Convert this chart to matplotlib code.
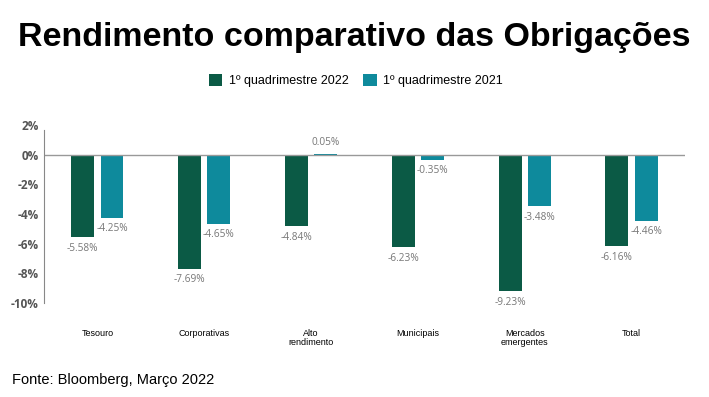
import numpy as np
import matplotlib.pyplot as plt

categories = ['Tesouro', 'Corporativas', 'Alto\nrendimento', 'Municipais',
              'Mercados\nemergentes', 'Total']
q1_2022 = [-5.58, -7.69, -4.84, -6.23, -9.23, -6.16]
q1_2021 = [-4.25, -4.65, 0.05, -0.35, -3.48, -4.46]
series_names = ['1º quadrimestre 2022', '1º quadrimestre 2021']
yticks = [2, 0, -2, -4, -6, -8, -10]

green = '#0b5a45'
teal = '#0e8a9c'

plt.rcParams['font.family'] = ['Liberation Sans', 'DejaVu Sans']

fig = plt.figure(figsize=(7.09, 3.97), dpi=100)
ax = fig.add_axes([0.062, 0.237, 0.904, 0.448])

x = np.arange(len(categories))
w = 0.215
off = 0.137
b1 = ax.bar(x - off, q1_2022, w, color=green, label=series_names[0])
b2 = ax.bar(x + off, q1_2021, w, color=teal, label=series_names[1])

for bars, vals in [(b1, q1_2022), (b2, q1_2021)]:
    for rect, v in zip(bars, vals):
        cx = rect.get_x() + rect.get_width() / 2
        if v < 0:
            ax.annotate(f'{v:.2f}%', (cx, v), xytext=(0, -4), textcoords='offset points',
                        ha='center', va='top', fontsize=7.3, color='#777777',
                        family=['Open Sans', 'DejaVu Sans'])
        else:
            ax.annotate(f'{v:.2f}%', (cx, v), xytext=(0, 4), textcoords='offset points',
                        ha='center', va='bottom', fontsize=7.3, color='#777777',
                        family=['Open Sans', 'DejaVu Sans'])

ax.axhline(0, color='#999999', lw=1)
ax.set_xlim(-0.5, 5.5)
ax.set_ylim(-10, 2)
ax.set_yticks(yticks)
ax.set_yticklabels([f'{t}%' for t in yticks], fontsize=8.5, color='#555555',
                   fontweight='bold', family=['Open Sans', 'DejaVu Sans'])
ax.tick_params(axis='y', length=0, pad=4)
ax.tick_params(axis='x', length=0, pad=19)
ax.set_xticks(x)
ax.set_xticklabels(categories, fontsize=6.5, linespacing=0.95, va='top')
for s in ['top', 'right', 'bottom']:
    ax.spines[s].set_visible(False)
ax.spines['left'].set_color('#888888')
ax.spines['left'].set_bounds(-10, 1.7)

fig.text(0.5, 0.905, 'Rendimento comparativo das Obrigações', ha='center', va='center',
         fontsize=24.5, fontweight='bold', color='black')
fig.legend(loc='center', bbox_to_anchor=(0.502, 0.798), ncol=2, frameon=False,
           fontsize=9, handlelength=1.1, handleheight=1.1, columnspacing=1.2,
           handletextpad=0.5)
fig.text(0.017, 0.043, 'Fonte: Bloomberg, Março 2022', ha='left', va='center',
         fontsize=10.5, color='black')

fig.savefig('out.png', dpi=100)
